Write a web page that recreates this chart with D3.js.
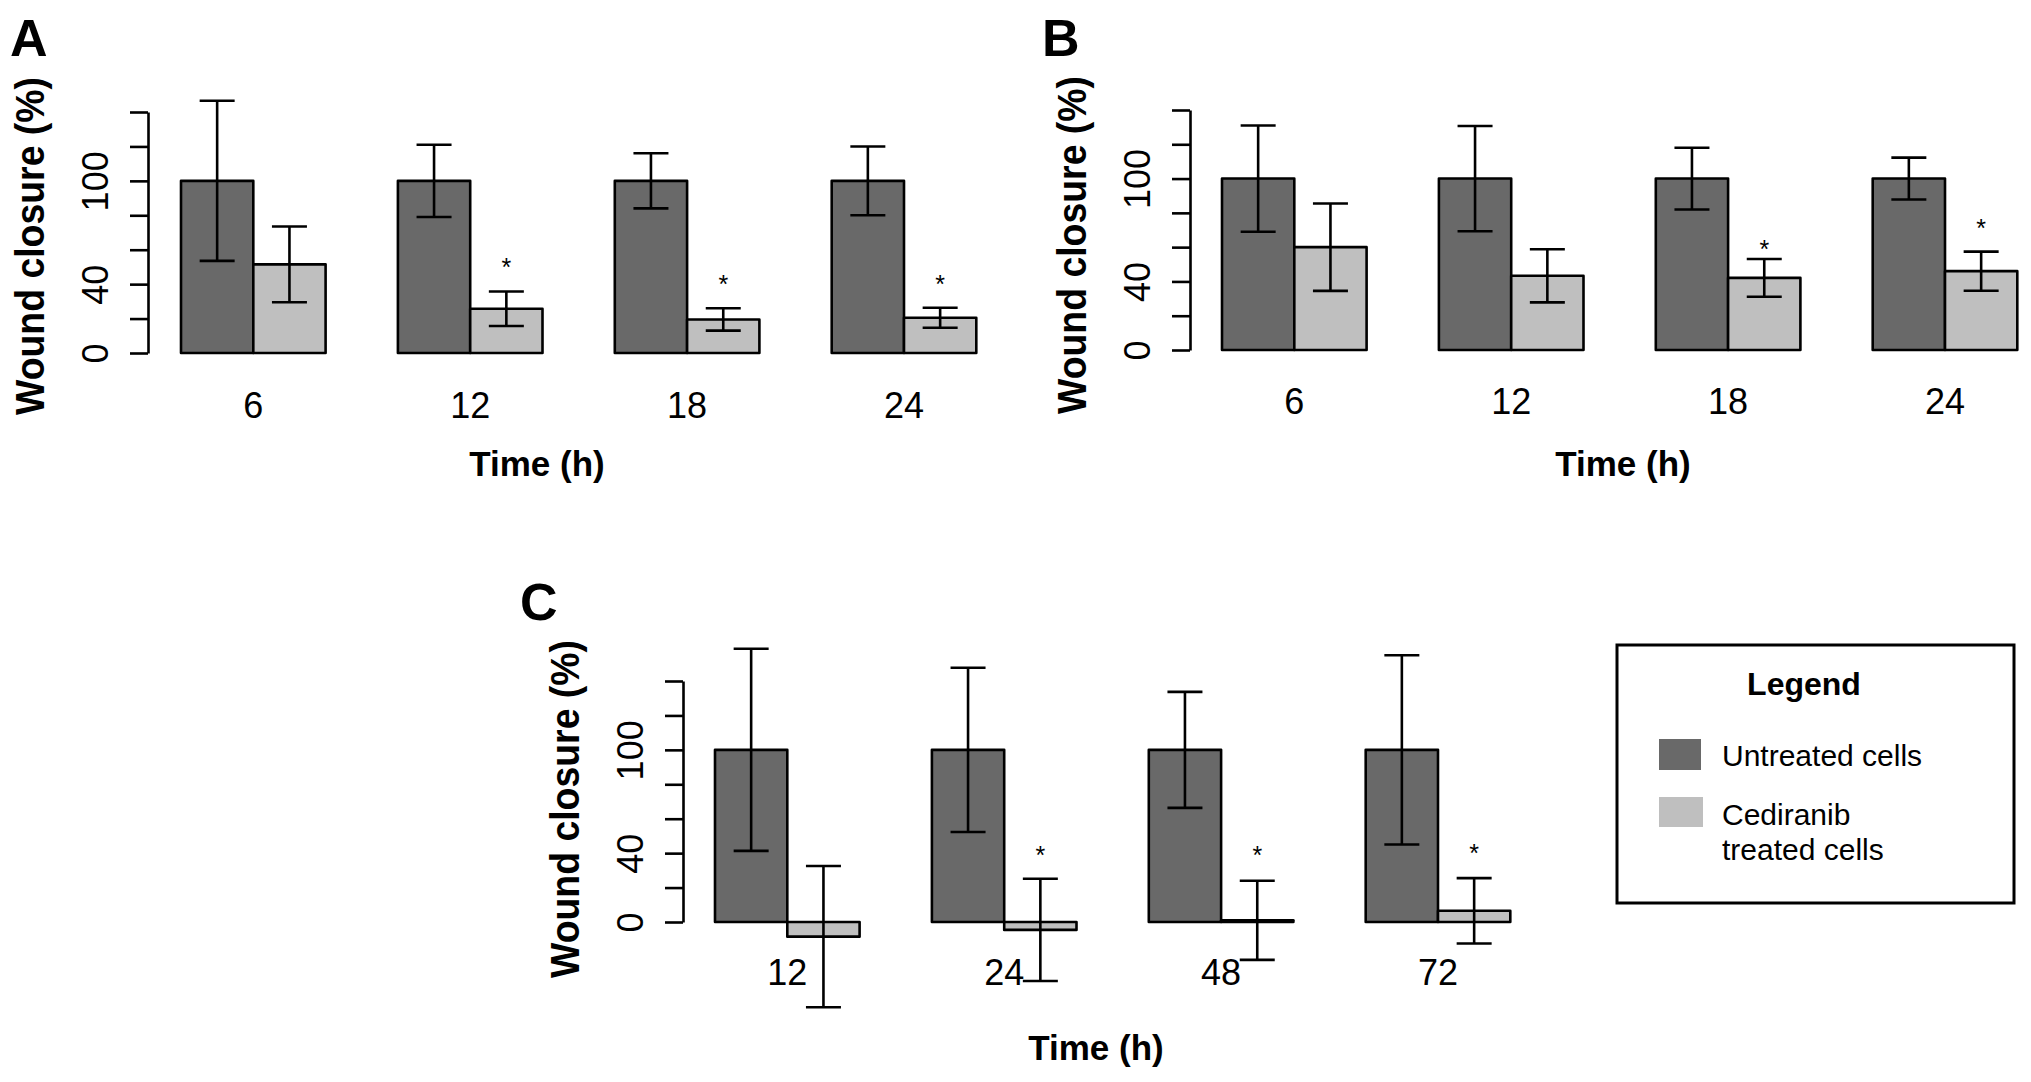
<!DOCTYPE html>
<html>
<head>
<meta charset="utf-8">
<script src="https://cdn.jsdelivr.net/npm/d3@7"></script>
<style>
  html, body { margin: 0; padding: 0; background: #fff; }
  svg { display: block; }
  text { font-family: "Liberation Sans", Arial, Helvetica, sans-serif; fill: #000; }
</style>
</head>
<body>
<svg id="chart" width="2031" height="1082"></svg>
<script>
// ---------------- DATA ----------------
const timesAB = ["6", "12", "18", "24"];
const timesC = ["12", "24", "48", "72"];

const untreatedA = [100, 100, 100, 100];
const untreatedErrA = [46.5, 21, 16, 20];
const treatedA = [51.5, 25.7, 19.5, 20.5];
const treatedErrA = [22, 10, 6.5, 5.8];
const starsA = [null, 53, 43, 43];

const untreatedB = [100, 100, 100, 100];
const untreatedErrB = [31, 30.7, 18, 12.2];
const treatedB = [60, 43.3, 42.1, 46];
const treatedErrB = [25.5, 15.5, 11, 11.4];
const starsB = [null, null, 62, 74];

const untreatedC = [100, 100, 100, 100];
const untreatedErrC = [58.7, 47.7, 33.7, 55];
const treatedC = [-8.5, -4.6, 1, 6.5];
const treatedErrC = [41, 29.7, 23, 19];
const starsC = [null, 42, 42, 43];

const yTicks = [0, 20, 40, 60, 80, 100, 120, 140];
const yTickLabels = [0, 40, 100];
const seriesNames = ["Untreated cells", "Cediranib treated cells"];
const yTitle = "Wound closure (%)";
const xTitle = "Time (h)";

// ---------------- STYLE / LAYOUT ----------------
const darkFill = "#696969";
const lightFill = "#bfbfbf";

const panels = [
  { letter: "A", lx: 10, ly: 56, axisX: 148, barStart: 181, zeroY: 353, topY: 112, yTitleY: 246,
    labelBase: 418, titleX: 537, titleBase: 476,
    times: timesAB, u: untreatedA, ue: untreatedErrA, t: treatedA, te: treatedErrA, stars: starsA },
  { letter: "B", lx: 1042, ly: 56, axisX: 1190, barStart: 1222, zeroY: 350, topY: 110, yTitleY: 245,
    labelBase: 414, titleX: 1623, titleBase: 476,
    times: timesAB, u: untreatedB, ue: untreatedErrB, t: treatedB, te: treatedErrB, stars: starsB },
  { letter: "C", lx: 520, ly: 620, axisX: 683, barStart: 715, zeroY: 922, topY: 681, yTitleY: 809,
    labelBase: 985, titleX: 1096, titleBase: 1060,
    times: timesC, u: untreatedC, ue: untreatedErrC, t: treatedC, te: treatedErrC, stars: starsC }
];

const svg = d3.select("#chart");
svg.append("rect").attr("width", 2031).attr("height", 1082).attr("fill", "#fff");

const unitW = 72.3;

panels.forEach(p => {
  const g = svg.append("g");
  const y = d3.scaleLinear().domain([0, 140]).range([p.zeroY, p.topY]);
  const x = d3.scaleLinear().domain([1, 12]).range([p.barStart, p.barStart + 11 * unitW]);

  // panel letter
  g.append("text").attr("x", p.lx).attr("y", p.ly)
    .attr("font-size", 52).attr("font-weight", "bold").text(p.letter);

  // y axis
  const axis = d3.axisLeft(y).tickValues(yTicks).tickSize(18).tickSizeOuter(0)
    .tickFormat(d => yTickLabels.includes(d) ? String(d) : "");
  const ag = g.append("g").attr("transform", `translate(${p.axisX},0)`).call(axis);
  ag.select(".domain").attr("stroke", "#000").attr("stroke-width", 2.6);
  ag.selectAll(".tick line").attr("stroke", "#000").attr("stroke-width", 2.6);
  ag.selectAll(".tick text")
    .attr("transform", "rotate(-90)")
    .attr("x", 0).attr("y", -40).attr("dy", 0)
    .attr("text-anchor", "middle")
    .attr("font-size", 36)
    .attr("font-family", "Liberation Sans, Arial, sans-serif")
    .attr("fill", "#000");

  // y title
  g.append("text")
    .attr("transform", `translate(${p.axisX - 104},${p.yTitleY}) rotate(-90)`)
    .attr("text-anchor", "middle")
    .attr("font-size", 40).attr("font-weight", "bold")
    .attr("textLength", 338).attr("lengthAdjust", "spacingAndGlyphs")
    .text(yTitle);

  // bars
  const bars = [];
  p.times.forEach((tm, i) => {
    bars.push({ u: 1 + 3 * i, v: p.u[i], e: p.ue[i], fill: darkFill });
    bars.push({ u: 2 + 3 * i, v: p.t[i], e: p.te[i], fill: lightFill, star: p.stars[i] });
  });

  g.selectAll("rect.bar").data(bars).enter().append("rect")
    .attr("class", "bar")
    .attr("x", d => x(d.u))
    .attr("width", d => x(d.u + 1) - x(d.u))
    .attr("y", d => Math.min(y(d.v), y(0)))
    .attr("height", d => Math.max(Math.abs(y(d.v) - y(0)), 1))
    .attr("fill", d => d.fill)
    .attr("stroke", "#000").attr("stroke-width", 2.6)
    .attr("stroke-linejoin", "round");

  // error bars
  const eb = g.selectAll("g.err").data(bars).enter().append("g").attr("class", "err")
    .attr("stroke", "#000").attr("stroke-width", 2.6);
  eb.append("line")
    .attr("x1", d => x(d.u + 0.5)).attr("x2", d => x(d.u + 0.5))
    .attr("y1", d => y(d.v - d.e)).attr("y2", d => y(d.v + d.e));
  eb.append("line")
    .attr("x1", d => x(d.u + 0.5) - 17.5).attr("x2", d => x(d.u + 0.5) + 17.5)
    .attr("y1", d => y(d.v + d.e)).attr("y2", d => y(d.v + d.e));
  eb.append("line")
    .attr("x1", d => x(d.u + 0.5) - 17.5).attr("x2", d => x(d.u + 0.5) + 17.5)
    .attr("y1", d => y(d.v - d.e)).attr("y2", d => y(d.v - d.e));

  // significance stars
  g.selectAll("text.star").data(bars.filter(d => d.star != null)).enter().append("text")
    .attr("class", "star")
    .attr("x", d => x(d.u + 0.5)).attr("y", d => y(d.star) + 14)
    .attr("text-anchor", "middle").attr("font-size", 25)
    .text("*");

  // x category labels
  g.selectAll("text.cat").data(p.times).enter().append("text")
    .attr("class", "cat")
    .attr("x", (d, i) => x(2 + 3 * i)).attr("y", p.labelBase)
    .attr("text-anchor", "middle").attr("font-size", 36)
    .text(d => d);

  // x title
  g.append("text").attr("x", p.titleX).attr("y", p.titleBase)
    .attr("text-anchor", "middle").attr("font-size", 35).attr("font-weight", "bold")
    .text(xTitle);
});

// ---------------- LEGEND ----------------
const lg = svg.append("g");
lg.append("rect").attr("x", 1617).attr("y", 645).attr("width", 397).attr("height", 258)
  .attr("fill", "#fff").attr("stroke", "#000").attr("stroke-width", 3);
lg.append("text").attr("x", 1804).attr("y", 695).attr("text-anchor", "middle")
  .attr("font-size", 32).attr("font-weight", "bold").text("Legend");
lg.append("rect").attr("x", 1659).attr("y", 739).attr("width", 42).attr("height", 31).attr("fill", darkFill);
lg.append("rect").attr("x", 1659).attr("y", 797).attr("width", 44).attr("height", 30).attr("fill", lightFill);
lg.append("text").attr("x", 1722).attr("y", 766).attr("font-size", 30).text(seriesNames[0]);
const words = seriesNames[1].split(" ");
lg.append("text").attr("x", 1722).attr("y", 825).attr("font-size", 30).text(words[0]);
lg.append("text").attr("x", 1722).attr("y", 860).attr("font-size", 30).text(words.slice(1).join(" "));
</script>
</body>
</html>
